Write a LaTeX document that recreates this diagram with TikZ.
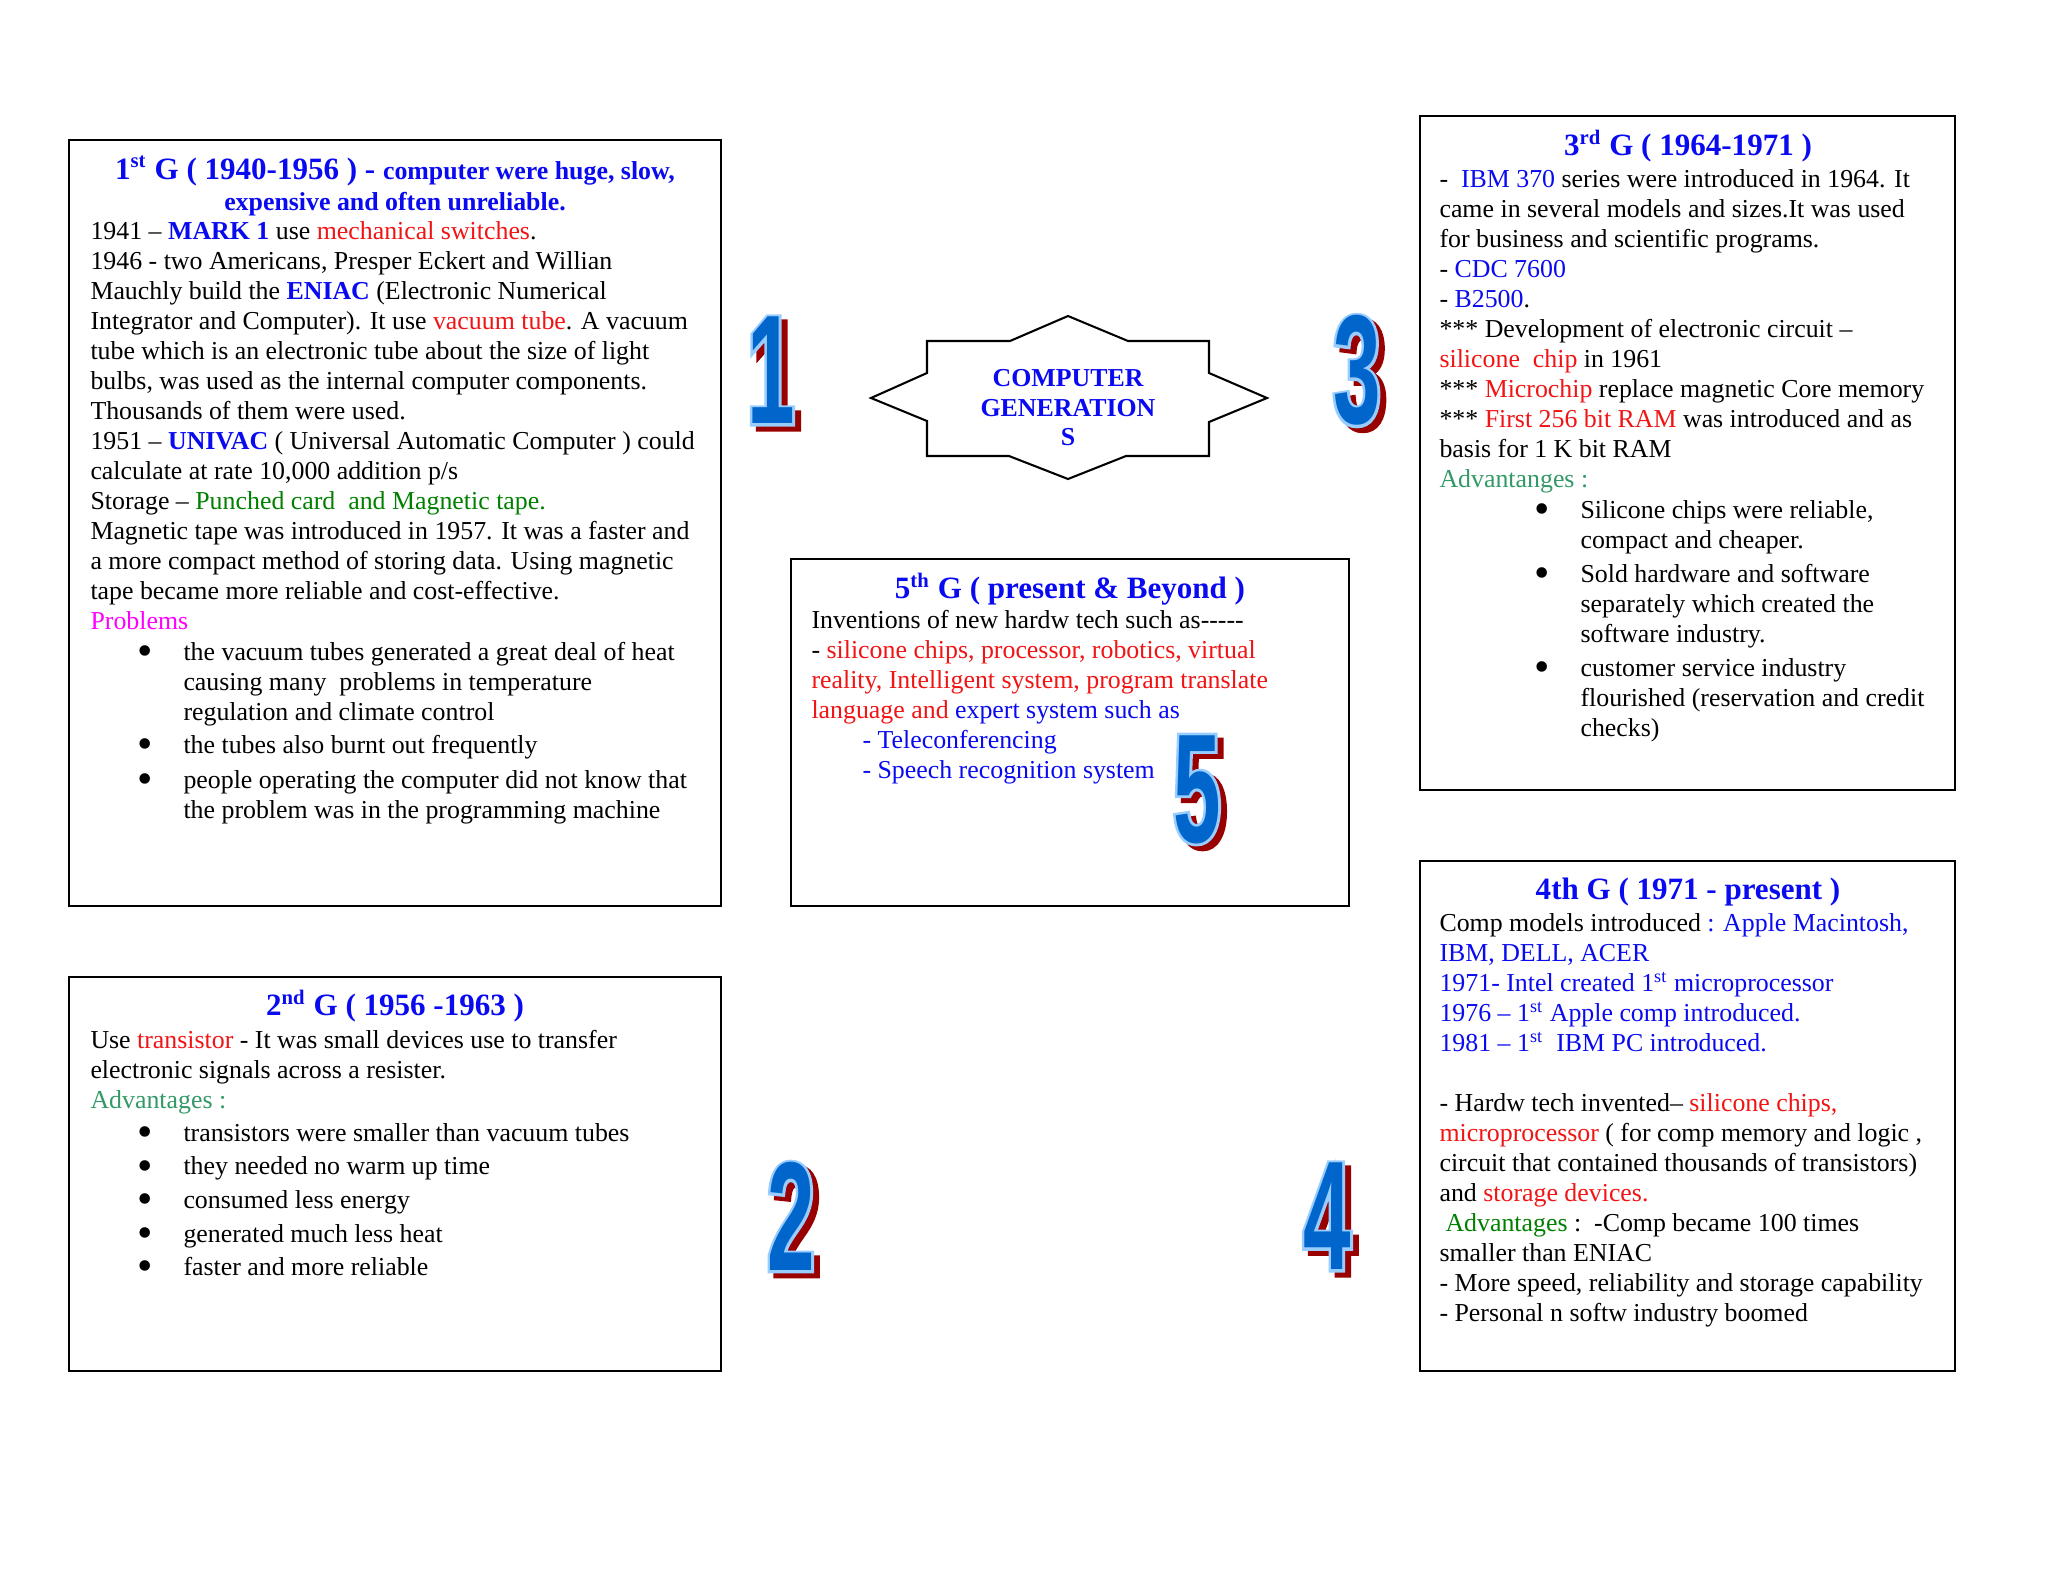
\documentclass[tikz,border=0pt]{standalone}
\usepackage{fontspec}
\setmainfont{Liberation Serif}
\newfontfamily\numbody{Liberation Sans Bold}[FakeStretch=0.55]
\newfontfamily\numedge{Liberation Sans Bold}[FakeStretch=0.55, FakeBold=3.5]
\usetikzlibrary{fit}

\definecolor{genblue}{RGB}{10,10,240}
\definecolor{genred}{RGB}{240,20,20}
\definecolor{gengreen}{RGB}{0,128,0}
\definecolor{genteal}{RGB}{51,153,102}
\definecolor{genpink}{RGB}{255,0,255}
\definecolor{numfill}{RGB}{0,102,204}
\definecolor{numedge}{RGB}{153,204,255}
\definecolor{numshadow}{RGB}{153,0,0}

\newlength{\px}
\setlength{\px}{0.3867pt}

\newcommand{\bl}[1]{\textcolor{genblue}{#1}}
\newcommand{\rd}[1]{\textcolor{genred}{#1}}
\newcommand{\gr}[1]{\textcolor{gengreen}{#1}}
\newcommand{\tl}[1]{\textcolor{genteal}{#1}}
\newcommand{\mg}[1]{\textcolor{genpink}{#1}}
\newcommand{\bul}[1]{\hspace*{#1}\makebox[46\px][l]{\raisebox{-2pt}{\scalebox{1.7}{\textbullet}}}}

% big outlined digit with a red shadow
\newcommand{\artnum}[1]{\fontsize{60}{60}\selectfont
  \rlap{\kern2.3pt\raisebox{-1.9pt}{\numedge\color{numshadow}#1}}%
  \rlap{\numedge\color{numedge}#1}%
  {\numbody\color{numfill}#1}}

\tikzset{
  genbox/.style={draw, line width=0.9pt, inner sep=0pt},
  genhead/.style={font=\fontsize{12}{12}\selectfont\bfseries, text=genblue, align=center, inner sep=0pt},
  gentext/.style={anchor=north west, align=left, inner sep=0pt, font=\fontsize{10}{11.6}\selectfont},
  startext/.style={font=\fontsize{10}{11.4}\selectfont\bfseries, text=genblue, align=center, inner sep=0pt},
  bignum/.style={inner sep=0pt}
}

\begin{document}
\begin{tikzpicture}[x=0.3867pt, y=-0.3867pt]
  \useasboundingbox (0,0) rectangle (2048,1582);

  % the five boxes
  \node[genbox, fit={(69,140) (721,906)}] (g1) {};
  \node[genbox, fit={(69,977) (721,1371)}] (g2) {};
  \node[genbox, fit={(1420,116) (1955,790)}] (g3) {};
  \node[genbox, fit={(1420,861) (1955,1371)}] (g4) {};
  \node[genbox, fit={(791,559) (1349,906)}] (g5) {};

  % centre star
  \draw[line width=0.8pt] (927,341) -- (1010,341) -- (1068,316) -- (1128,341) -- (1209,341)
    -- (1209,373) -- (1267,398) -- (1209,422) -- (1209,456) -- (1126,456) -- (1068,479)
    -- (1009,456) -- (927,456) -- (927,421) -- (871,398) -- (927,373) -- cycle;
  \node[startext] (star) at (1068,408) {COMPUTER\\GENERATION\\S};

  % 1st generation
  \node[genhead] (g1h) at (395,186) {1\textsuperscript{st} G ( 1940-1956 ) - {\fontsize{10}{12}\selectfont computer were huge, slow,}\\
    {\fontsize{10}{12}\selectfont expensive and often unreliable.}};
  \node[gentext] (g1t) at (90,221) {1941 – \bl{\textbf{MARK 1}} use \rd{mechanical switches}.\\
    1946 - two Americans, Presper Eckert and Willian\\
    Mauchly build the \bl{\textbf{ENIAC}} (Electronic Numerical\\
    Integrator and Computer). It use \rd{vacuum tube}. A vacuum\\
    tube which is an electronic tube about the size of light\\
    bulbs, was used as the internal computer components.\\
    Thousands of them were used.\\
    1951 – \bl{\textbf{UNIVAC}} ( Universal Automatic Computer ) could\\
    calculate at rate 10,000 addition p/s\\
    Storage – \gr{Punched card\ \ and Magnetic tape.}\\
    Magnetic tape was introduced in 1957. It was a faster and\\
    a more compact method of storing data. Using magnetic\\
    tape became more reliable and cost-effective.\\
    \mg{Problems}\\[0.5pt]
    \bul{47\px}the vacuum tubes generated a great deal of heat\\
    \hspace*{93\px}causing many\ \ problems in temperature\\
    \hspace*{93\px}regulation and climate control\\[1pt]
    \bul{47\px}the tubes also burnt out frequently\\[2pt]
    \bul{47\px}people operating the computer did not know that\\
    \hspace*{93\px}the problem was in the programming machine};

  % 2nd generation
  \node[genhead] (g2h) at (395,1006) {2\textsuperscript{nd} G ( 1956 -1963 )};
  \node[gentext] (g2t) at (90,1030) {Use \rd{transistor} - It was small devices use to transfer\\
    electronic signals across a resister.\\
    \tl{Advantages :}\\[1pt]
    \bul{47\px}transistors were smaller than vacuum tubes\\[1.4pt]
    \bul{47\px}they needed no warm up time\\[1.4pt]
    \bul{47\px}consumed less energy\\[1.4pt]
    \bul{47\px}generated much less heat\\[1.4pt]
    \bul{47\px}faster and more reliable};

  % 3rd generation
  \node[genhead] (g3h) at (1688,146) {3\textsuperscript{rd} G ( 1964-1971 )};
  \node[gentext] (g3t) at (1439,169) {-\ \ \bl{IBM 370} series were introduced in 1964. It\\
    came in several models and sizes.It was used\\
    for business and scientific programs.\\
    - \bl{CDC 7600}\\
    - \bl{B2500}.\\
    *** Development of electronic circuit –\\
    \rd{silicone\ \ chip} in 1961\\
    *** \rd{Microchip} replace magnetic Core memory\\
    *** \rd{First 256 bit RAM} was introduced and as\\
    basis for 1 K bit RAM\\
    \tl{Advantanges :}\\[0.5pt]
    \bul{95\px}Silicone chips were reliable,\\
    \hspace*{141\px}compact and cheaper.\\[1.5pt]
    \bul{95\px}Sold hardware and software\\
    \hspace*{141\px}separately which created the\\
    \hspace*{141\px}software industry.\\[1.5pt]
    \bul{95\px}customer service industry\\
    \hspace*{141\px}flourished (reservation and credit\\
    \hspace*{141\px}checks)};

  % 4th generation
  \node[genhead] (g4h) at (1688,892) {4th G ( 1971 - present )};
  \node[gentext] (g4t) at (1439,913) {Comp models introduced \bl{: Apple Macintosh,}\\
    \bl{IBM, DELL, ACER}\\
    \bl{1971- Intel created 1\textsuperscript{st} microprocessor}\\
    \bl{1976 – 1\textsuperscript{st} Apple comp introduced.}\\
    \bl{1981 – 1\textsuperscript{st}\ \ IBM PC introduced.}\\
    \mbox{}\\
    - Hardw tech invented– \rd{silicone chips,}\\
    \rd{microprocessor} ( for comp memory and logic ,\\
    circuit that contained thousands of transistors)\\
    and \rd{storage devices.}\\
    \hspace*{6\px}\gr{Advantages} :\ \ -Comp became 100 times\\
    smaller than ENIAC\\
    - More speed, reliability and storage capability\\
    - Personal n softw industry boomed};

  % 5th generation
  \node[genhead] (g5h) at (1070,589) {5\textsuperscript{th} G ( present \& Beyond )};
  \node[gentext] (g5t) at (811,610) {Inventions of new hardw tech such as-{}-{}-{}-{}-\\
    - \rd{silicone chips, processor, robotics, virtual}\\
    \rd{reality, Intelligent system, program translate}\\
    \rd{language and} \bl{expert system such as}\\
    \hspace*{51\px}\bl{- Teleconferencing}\\
    \hspace*{51\px}\bl{- Speech recognition system}};

  % generation numbers
  \node[bignum] (n1) at (771,373) {\artnum{1}};
  \node[bignum] (n3) at (1357,373) {\artnum{3}};
  \node[bignum] (n5) at (1197,792) {\artnum{5}};
  \node[bignum] (n2) at (791,1219) {\artnum{2}};
  \node[bignum] (n4) at (1327,1219) {\artnum{4}};
\end{tikzpicture}
\end{document}
